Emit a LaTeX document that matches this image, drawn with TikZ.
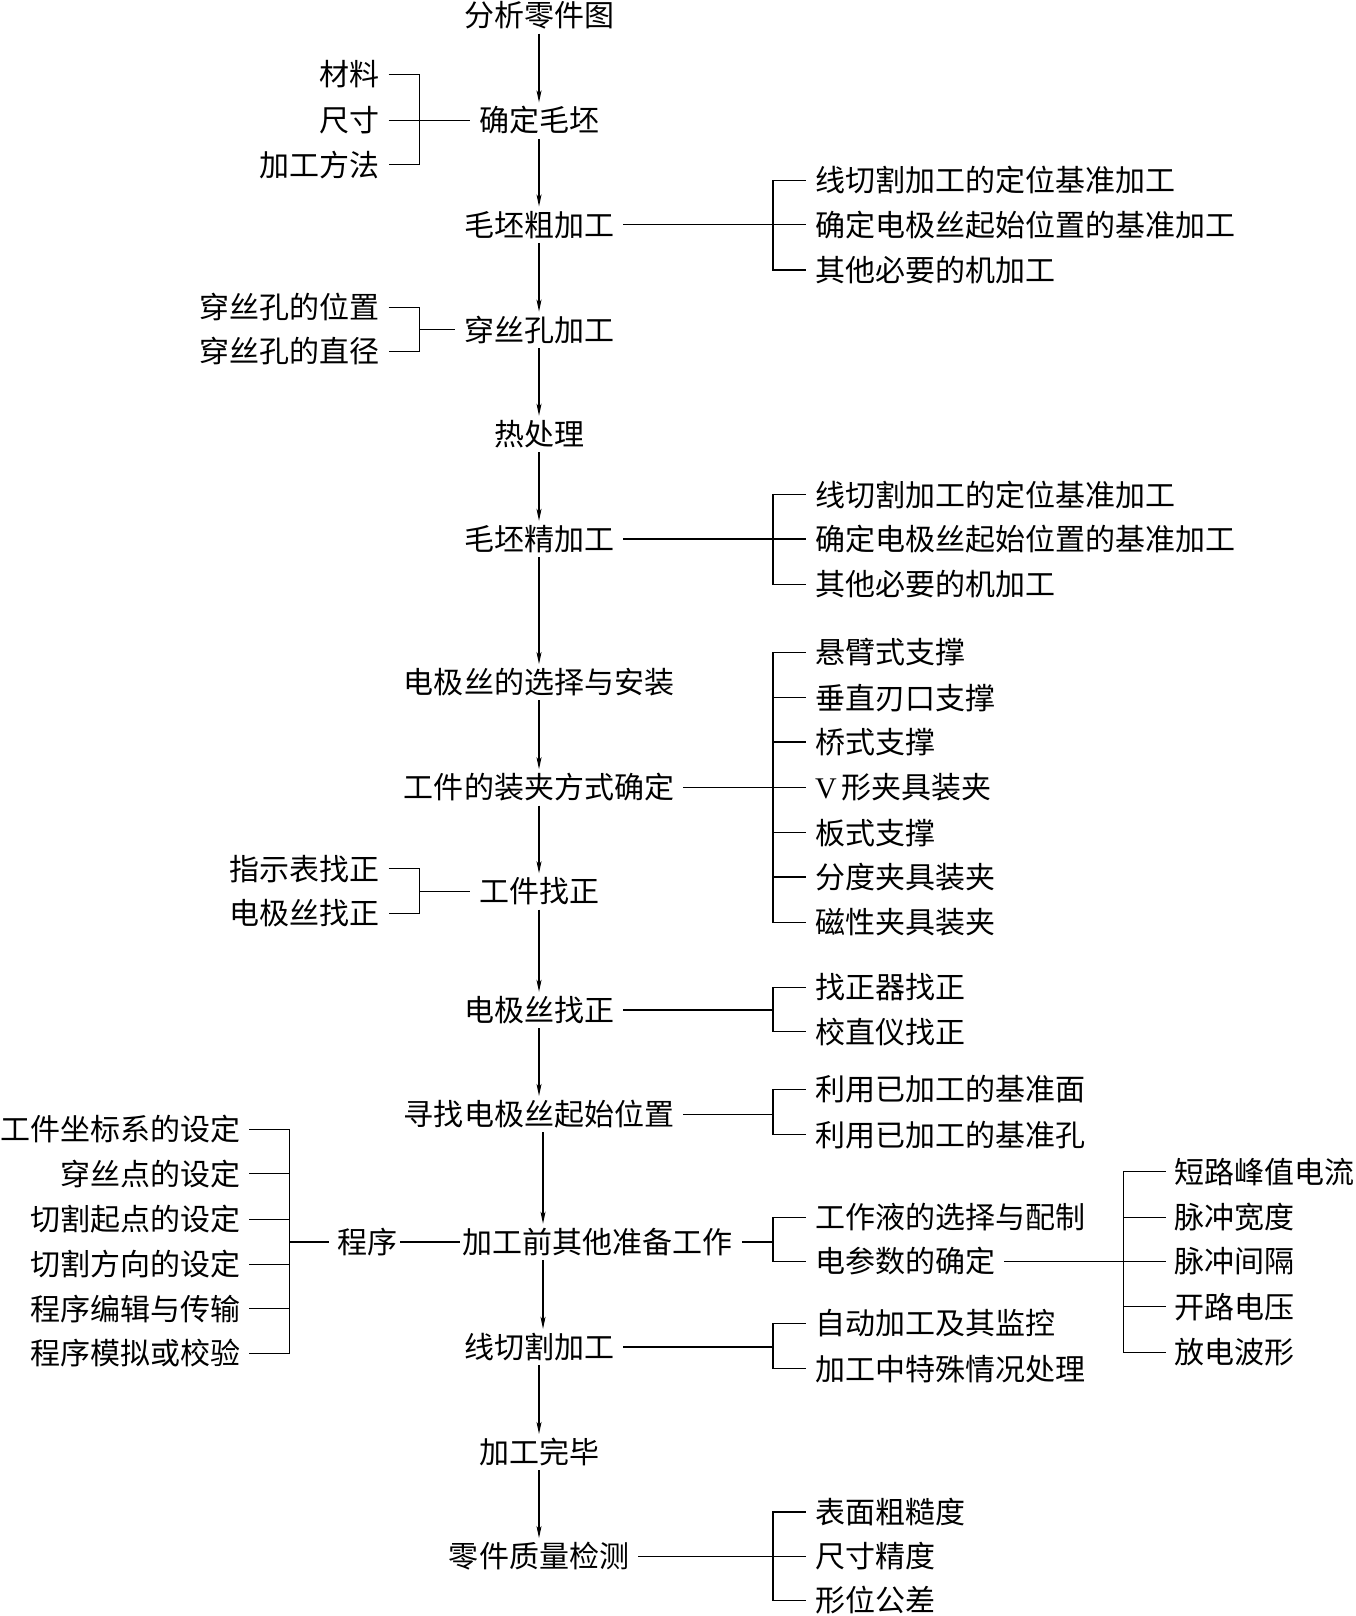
\documentclass[tikz,border=0pt]{standalone}
\usepackage{fontspec}
\setmainfont{Noto Sans CJK SC}
\newfontfamily\latinserif{Liberation Serif}
\usetikzlibrary{arrows.meta}
\begin{document}
\begin{tikzpicture}[x=1.0304pt,y=-1.0304pt,
  every node/.style={font=\fontsize{30}{30}\selectfont, inner xsep=9pt, inner ysep=3pt, text height=26.4pt, text depth=3.6pt},
  ritem/.style={anchor=west},
  litem/.style={anchor=east},
  line/.style={line width=1.2pt},
  arr/.style={line width=1.2pt, -{Stealth[length=12pt,width=5pt,inset=3pt]}}]
\useasboundingbox (0,0) rectangle (1315,1568);

% main column
\node (m1) at (523,15) {分析零件图};
\node (m2) at (523,117) {确定毛坯};
\node (m3) at (523,218) {毛坯粗加工};
\node (m4) at (523,320) {穿丝孔加工};
\node (m5) at (523,421) {热处理};
\node (m6) at (523,523) {毛坯精加工};
\node (m7) at (523,662) {电极丝的选择与安装};
\node (m8) at (523,764) {工件的装夹方式确定};
\node (m9) at (523,865) {工件找正};
\node (m10) at (523,980) {电极丝找正};
\node (m11) at (523,1081) {寻找电极丝起始位置};
\node[anchor=west] (m12) at (440,1205) {加工前其他准备工作};
\node (m13) at (523,1307) {线切割加工};
\node (m14) at (523,1409) {加工完毕};
\node (m15) at (523,1510) {零件质量检测};

\draw[arr] (m1) -- (m2);
\draw[arr] (m2) -- (m3);
\draw[arr] (m3) -- (m4);
\draw[arr] (m4) -- (m5);
\draw[arr] (m5) -- (m6);
\draw[arr] (m6) -- (m7);
\draw[arr] (m7) -- (m8);
\draw[arr] (m8) -- (m9);
\draw[arr] (m9) -- (m10);
\draw[arr] (m10) -- (m11);
\draw[arr] ([xshift=4pt]m11.south) -- ([xshift=4pt]m11.south |- m12.north);
\draw[arr] ([xshift=4pt]m13.north |- m12.south) -- ([xshift=4pt]m13.north);
\draw[arr] (m13) -- (m14);
\draw[arr] (m14) -- (m15);

% L1: 确定毛坯
\coordinate (jl1) at (407,117);
\node[litem] (l1a) at (377,72) {材料};
\node[litem] (l1b) at (377,117) {尺寸};
\node[litem] (l1c) at (377,160) {加工方法};
\draw[line] (l1a.east) -| (jl1) |- (l1c.east);
\draw[line] (l1b.east) -- (m2.west);

% R1: 毛坯粗加工
\coordinate (j1) at (750,218);
\node[ritem] (r1a) at (782,175) {线切割加工的定位基准加工};
\node[ritem] (r1b) at (782,218) {确定电极丝起始位置的基准加工};
\node[ritem] (r1c) at (782,262) {其他必要的机加工};
\draw[line] (m3.east) -- (j1);
\draw[line] (r1a.west) -| (j1) |- (r1c.west);
\draw[line] (r1b.west) -- (j1);

% L2: 穿丝孔加工
\coordinate (jl2) at (407,320);
\node[litem] (l2a) at (377,298) {穿丝孔的位置};
\node[litem] (l2b) at (377,341) {穿丝孔的直径};
\draw[line] (l2a.east) -| (jl2) |- (l2b.east);
\draw[line] (jl2) -- (m4.west);

% R2: 毛坯精加工
\coordinate (j2) at (750,523);
\node[ritem] (r2a) at (782,480) {线切割加工的定位基准加工};
\node[ritem] (r2b) at (782,523) {确定电极丝起始位置的基准加工};
\node[ritem] (r2c) at (782,567) {其他必要的机加工};
\draw[line] (m6.east) -- (j2);
\draw[line] (r2a.west) -| (j2) |- (r2c.west);
\draw[line] (r2b.west) -- (j2);

% R3: 工件的装夹方式确定
\coordinate (j3) at (750,764);
\node[ritem] (r3a) at (782,633) {悬臂式支撑};
\node[ritem] (r3b) at (782,677) {垂直刃口支撑};
\node[ritem] (r3c) at (782,720) {桥式支撑};
\node[ritem] (r3d) at (782,764) {{\latinserif V}\,形夹具装夹};
\node[ritem] (r3e) at (782,808) {板式支撑};
\node[ritem] (r3f) at (782,851) {分度夹具装夹};
\node[ritem] (r3g) at (782,895) {磁性夹具装夹};
\draw[line] (m8.east) -- (j3);
\draw[line] (r3a.west) -| (j3) |- (r3g.west);
\foreach \n in {r3b,r3c,r3d,r3e,r3f} \draw[line] (\n.west) -- (\n.west -| j3);

% L3: 工件找正
\coordinate (jl3) at (407,865);
\node[litem] (l3a) at (377,843) {指示表找正};
\node[litem] (l3b) at (377,886) {电极丝找正};
\draw[line] (l3a.east) -| (jl3) |- (l3b.east);
\draw[line] (jl3) -- (m9.west);

% R4: 电极丝找正
\coordinate (j4) at (750,980);
\node[ritem] (r4a) at (782,958) {找正器找正};
\node[ritem] (r4b) at (782,1001) {校直仪找正};
\draw[line] (m10.east) -- (j4);
\draw[line] (r4a.west) -| (j4) |- (r4b.west);

% R5: 寻找电极丝起始位置
\coordinate (j5) at (750,1081);
\node[ritem] (r5a) at (782,1057) {利用已加工的基准面};
\node[ritem] (r5b) at (782,1101) {利用已加工的基准孔};
\draw[line] (m11.east) -- (j5);
\draw[line] (r5a.west) -| (j5) |- (r5b.west);

% L4: 程序
\node (p) at (357,1205) {程序};
\coordinate (jl4) at (281,1205);
\node[litem] (l4a) at (242,1096) {工件坐标系的设定};
\node[litem] (l4b) at (242,1139) {穿丝点的设定};
\node[litem] (l4c) at (242,1183) {切割起点的设定};
\node[litem] (l4d) at (242,1227) {切割方向的设定};
\node[litem] (l4e) at (242,1270) {程序编辑与传输};
\node[litem] (l4f) at (242,1313) {程序模拟或校验};
\draw[line] (l4a.east) -| (jl4) |- (l4f.east);
\foreach \n in {l4b,l4c,l4d,l4e} \draw[line] (\n.east) -- (\n.east -| jl4);
\draw[line] (jl4) -- (p.west);
\draw[line, shorten <=-7pt, shorten >=-7pt] (p.east) -- (m12.west);

% R6: 加工前其他准备工作
\coordinate (j6) at (750,1205);
\node[ritem] (r6a) at (782,1181) {工作液的选择与配制};
\node[ritem] (r6b) at (782,1224) {电参数的确定};
\draw[line] (m12.east) -- (j6);
\draw[line] (r6a.west) -| (j6) |- (r6b.west);

% R9: 电参数
\coordinate (j9) at (1090,1224);
\node[ritem] (r9a) at (1131,1137) {短路峰值电流};
\node[ritem] (r9b) at (1131,1181) {脉冲宽度};
\node[ritem] (r9c) at (1131,1224) {脉冲间隔};
\node[ritem] (r9d) at (1131,1268) {开路电压};
\node[ritem] (r9e) at (1131,1312) {放电波形};
\draw[line] (r6b.east) -- (r9c.west);
\draw[line] (r9a.west) -| (j9) |- (r9e.west);
\foreach \n in {r9b,r9d} \draw[line] (\n.west) -- (\n.west -| j9);

% R7: 线切割加工
\coordinate (j7) at (750,1307);
\node[ritem] (r7a) at (782,1284) {自动加工及其监控};
\node[ritem] (r7b) at (782,1328) {加工中特殊情况处理};
\draw[line] (m13.east) -- (j7);
\draw[line] (r7a.west) -| (j7) |- (r7b.west);

% R8: 零件质量检测
\coordinate (j8) at (750,1510);
\node[ritem] (r8a) at (782,1467) {表面粗糙度};
\node[ritem] (r8b) at (782,1510) {尺寸精度};
\node[ritem] (r8c) at (782,1553) {形位公差};
\draw[line] (m15.east) -- (j8);
\draw[line] (r8a.west) -| (j8) |- (r8c.west);
\draw[line] (r8b.west) -- (j8);
\end{tikzpicture}
\end{document}
